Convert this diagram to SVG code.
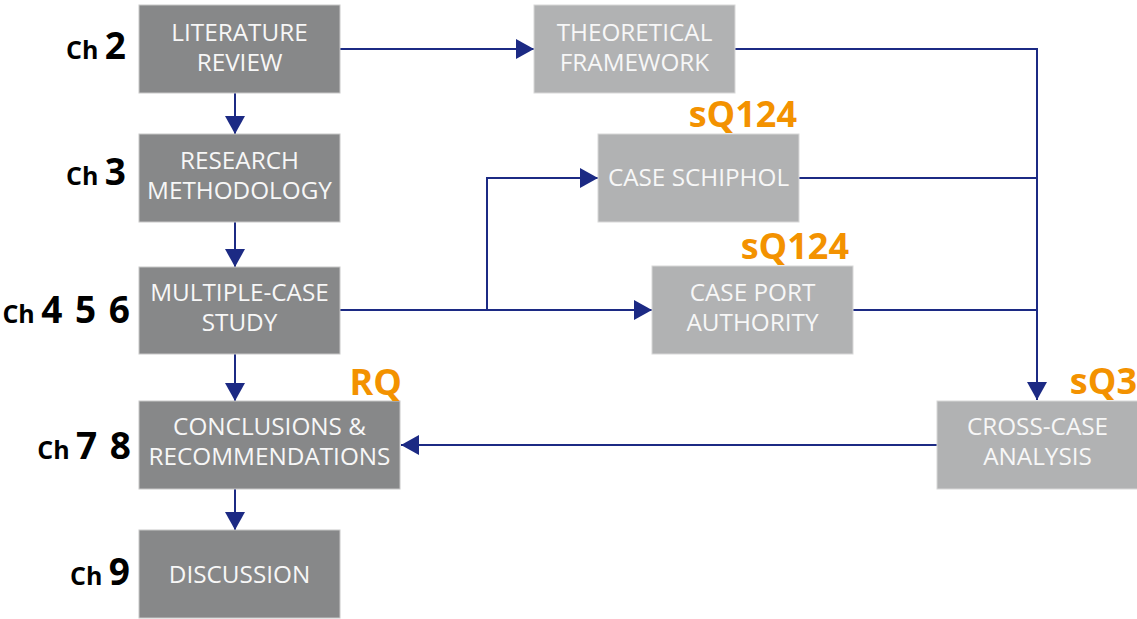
<svg xmlns="http://www.w3.org/2000/svg" width="1137" height="619" viewBox="0 0 1137 619">
<defs>
<marker id="arr" markerUnits="userSpaceOnUse" markerWidth="18" markerHeight="20" refX="18" refY="10" orient="auto">
<path d="M0,0 L18,10 L0,20 z" fill="#1c2a84"/>
</marker>
<style>
.dark{fill:#878889;stroke:#c8c8c8;stroke-width:1}
.light{fill:#b1b2b3;stroke:#d8d8d8;stroke-width:1}
.t{font-family:"Open Sans","Liberation Sans",sans-serif;font-size:24.3px;fill:#f7f7f7;text-anchor:middle}
.ch{font-family:"Open Sans","Liberation Sans",sans-serif;font-weight:bold;fill:#000;text-anchor:end}
.ch .s{font-size:25px}
.ch .b{font-size:37px}
.q{font-family:"Open Sans","Liberation Sans",sans-serif;font-weight:bold;font-size:36px;fill:#f39200;text-anchor:end}
.c{fill:none;stroke:#1c2a84;stroke-width:2}
.ca{fill:none;stroke:#1c2a84;stroke-width:2;marker-end:url(#arr)}
</style>
</defs>
<rect width="1137" height="619" fill="#ffffff"/>
<g id="connectors">
<path class="ca" d="M340,49 H534"/>
<path class="ca" d="M235,93 V134"/>
<path class="ca" d="M235,222 V267"/>
<path class="ca" d="M235,354 V401"/>
<path class="ca" d="M235,489 V530"/>
<path class="ca" d="M735,49 H1037 V400"/>
<path class="c" d="M799,178 H1037"/>
<path class="c" d="M853,310 H1037"/>
<path class="ca" d="M340,310 H652"/>
<path class="ca" d="M487,310 V178 H598"/>
<path class="ca" d="M937,445 H401"/>
</g>
<g id="literature-review">
<rect class="dark" x="139" y="5" width="201" height="88"/>
<text class="t" x="239.5" y="41">LITERATURE</text>
<text class="t" x="239.5" y="71">REVIEW</text>
</g>
<g id="research-methodology">
<rect class="dark" x="139" y="134" width="201" height="88"/>
<text class="t" x="239.5" y="169">RESEARCH</text>
<text class="t" x="239.5" y="199">METHODOLOGY</text>
</g>
<g id="multiple-case-study">
<rect class="dark" x="139" y="267" width="201" height="87"/>
<text class="t" x="239.5" y="301">MULTIPLE-CASE</text>
<text class="t" x="239.5" y="331">STUDY</text>
</g>
<g id="conclusions">
<rect class="dark" x="139" y="401" width="261" height="88"/>
<text class="t" x="269.5" y="435">CONCLUSIONS &amp;</text>
<text class="t" x="269.5" y="465">RECOMMENDATIONS</text>
</g>
<g id="discussion">
<rect class="dark" x="139" y="530" width="201" height="88"/>
<text class="t" x="239.5" y="583">DISCUSSION</text>
</g>
<g id="theoretical-framework">
<rect class="light" x="534" y="5" width="201" height="88"/>
<text class="t" x="634.5" y="41">THEORETICAL</text>
<text class="t" x="634.5" y="71">FRAMEWORK</text>
</g>
<g id="case-schiphol">
<rect class="light" x="598" y="134" width="201" height="88"/>
<text class="t" x="698.5" y="186">CASE SCHIPHOL</text>
</g>
<g id="case-port-authority">
<rect class="light" x="652" y="266" width="201" height="88"/>
<text class="t" x="752.5" y="301">CASE PORT</text>
<text class="t" x="752.5" y="331">AUTHORITY</text>
</g>
<g id="cross-case-analysis">
<rect class="light" x="937" y="401" width="201" height="88"/>
<text class="t" x="1037.5" y="435">CROSS-CASE</text>
<text class="t" x="1037.5" y="465">ANALYSIS</text>
</g>
<g id="chapter-labels">
<text class="ch" x="126" y="59"><tspan class="s">Ch </tspan><tspan class="b">2</tspan></text>
<text class="ch" x="126" y="185"><tspan class="s">Ch </tspan><tspan class="b">3</tspan></text>
<text class="ch" x="130" y="323"><tspan class="s">Ch </tspan><tspan class="b" word-spacing="3">4 5 6</tspan></text>
<text class="ch" x="131" y="459"><tspan class="s">Ch </tspan><tspan class="b" word-spacing="3">7 8</tspan></text>
<text class="ch" x="130" y="585"><tspan class="s">Ch </tspan><tspan class="b">9</tspan></text>
</g>
<g id="question-labels">
<text class="q" x="797" y="127">sQ124</text>
<text class="q" x="849" y="259">sQ124</text>
<text class="q" x="402" y="395">RQ</text>
<text class="q" x="1137" y="394">sQ3</text>
</g>
</svg>
